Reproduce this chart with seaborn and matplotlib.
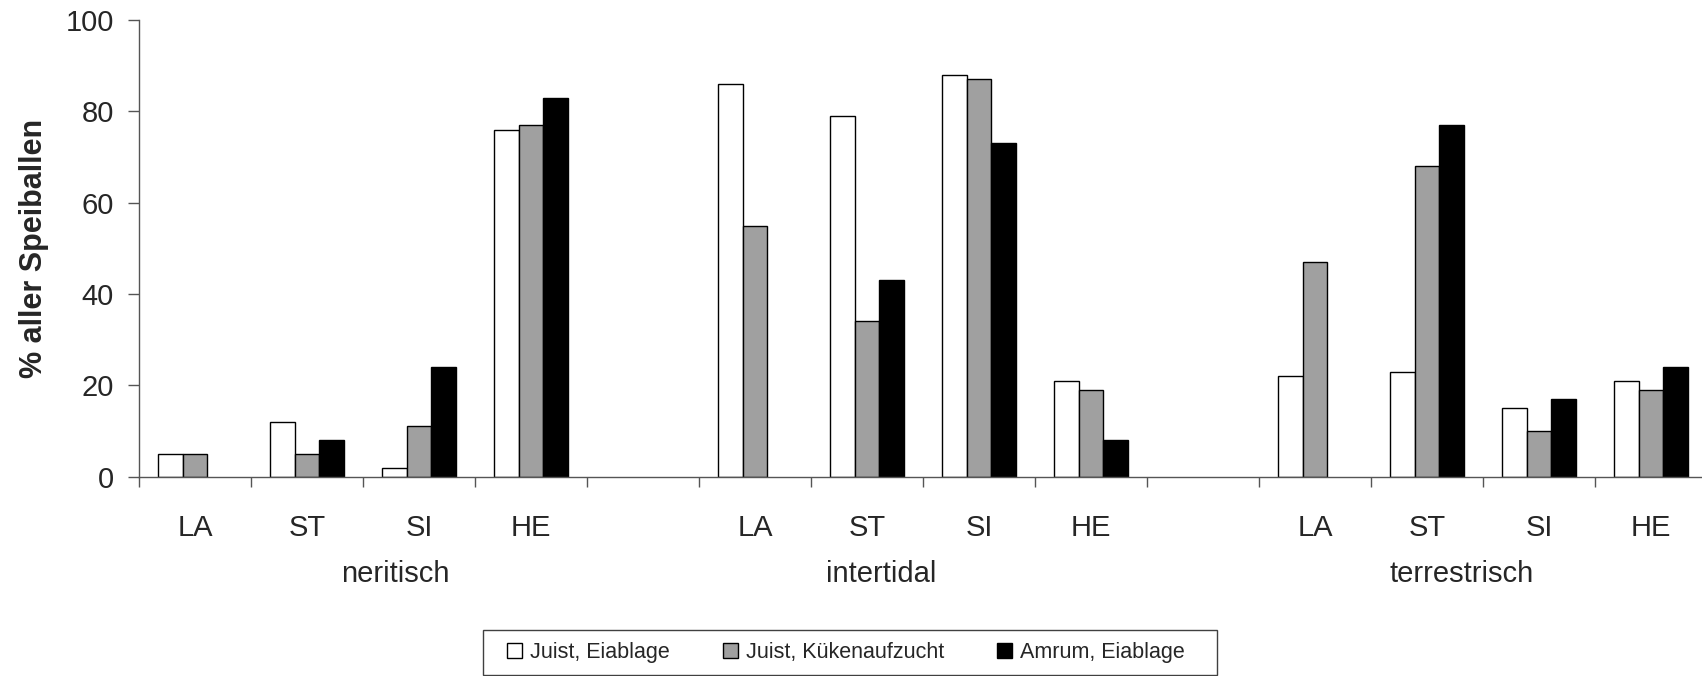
import matplotlib
matplotlib.use("Agg")
import matplotlib.pyplot as plt
from matplotlib.patches import Rectangle
from matplotlib.transforms import blended_transform_factory
import seaborn as sns
import pandas as pd

# ---- data -------------------------------------------------------------
habitats = ["neritisch", "intertidal", "terrestrisch"]
prey = ["LA", "ST", "SI", "HE"]
series = ["Juist, Eiablage", "Juist, Kükenaufzucht", "Amrum, Eiablage"]
juist_eiablage = [5, 12, 2, 76, 86, 79, 88, 21, 22, 23, 15, 21]
juist_kueken = [5, 5, 11, 77, 55, 34, 87, 19, 47, 68, 10, 19]
amrum_eiablage = [0, 8, 24, 83, 0, 43, 73, 8, 0, 77, 17, 24]
colors = ["#ffffff", "#a0a0a0", "#000000"]
y_ticks = [0, 20, 40, 60, 80, 100]
y_label = "% aller Speiballen"

# ---- table --------------------------------------------------------------
rows = []
for s, vals in zip(series, [juist_eiablage, juist_kueken, amrum_eiablage]):
    k = 0
    for h in habitats:
        for p in prey:
            rows.append({"slot": f"{h}-{p}", "prey": p, "habitat": h,
                         "serie": s, "wert": vals[k]})
            k += 1
df = pd.DataFrame(rows)

order = []
tick_labels = []
for i, h in enumerate(habitats):
    for p in prey:
        order.append(f"{h}-{p}")
        tick_labels.append(p)
    if i < len(habitats) - 1:
        order.append(f"gap{i}")
        tick_labels.append("")

# ---- figure -------------------------------------------------------------
sns.set_style("white")
plt.rcParams["font.family"] = ["Liberation Sans", "DejaVu Sans"]

W, H = 1702, 676
fig = plt.figure(figsize=(W / 100, H / 100), dpi=100)
slot_px = 112.0
left_px, base_px, top_px = 139.0, 476.7, 20.0
ax = fig.add_axes([left_px / W, (H - base_px) / H,
                   len(order) * slot_px / W, (base_px - top_px) / H])

sns.barplot(data=df, x="slot", y="wert", hue="serie", order=order,
            hue_order=series, palette=colors, saturation=1,
            width=0.656, edgecolor="black", linewidth=1.0,
            errorbar=None, ax=ax)

handles, labels = ax.get_legend_handles_labels()
if ax.get_legend() is not None:
    ax.get_legend().remove()

# zero-height bars are not drawn in the original
for patch in ax.patches:
    if any(patch is h for h in handles):
        continue
    if patch.get_height() == 0:
        patch.set_visible(False)

ax.set_xlim(-0.5, len(order) - 0.5)
ax.set_ylim(0, 100)
ax.set_yticks(y_ticks)
ax.set_yticklabels([str(v) for v in y_ticks], fontsize=21)
ax.set_xticks(range(len(order)))
ax.set_xticklabels(tick_labels, fontsize=21)
ax.set_xticks([i - 0.5 for i in range(len(order) + 1)], minor=True)
ax.tick_params(axis="x", which="major", length=0, pad=26.5)
ax.tick_params(axis="x", which="minor", length=7.5, width=1,
               color="#555555", direction="out", bottom=True)
ax.tick_params(axis="y", length=8, width=1, color="#555555",
               direction="out", pad=10, left=True)
for side in ["top", "right"]:
    ax.spines[side].set_visible(False)
for side in ["left", "bottom"]:
    ax.spines[side].set_color("#555555")
    ax.spines[side].set_linewidth(1.0)
ax.set_xlabel("")
ax.set_ylabel(y_label, fontsize=22, fontweight="bold")
ax.yaxis.set_label_coords((49 - left_px) / (len(order) * slot_px), 0.5)

# group labels
group_x = [1.786, 6.125, 11.31]
trans = blended_transform_factory(ax.transData, ax.transAxes)
for gx, h in zip(group_x, habitats):
    ax.text(gx, (base_px - 573.5) / (base_px - top_px), h, transform=trans,
            ha="center", va="center", fontsize=21)

# legend
fig.legend(handles, labels, loc="center", ncol=3,
           bbox_to_anchor=(846 / W, 1 - 652.5 / H), frameon=False,
           fontsize=15.5, handlelength=0.7, handleheight=0.7,
           handletextpad=0.37, columnspacing=2.45, borderpad=0)
fig.patches.append(Rectangle((483 / W, 1 - 675 / H), (1217 - 483) / W,
                             45 / H, transform=fig.transFigure,
                             fill=False, edgecolor="#404040", linewidth=1.0))

fig.savefig("out.png", dpi=100)
